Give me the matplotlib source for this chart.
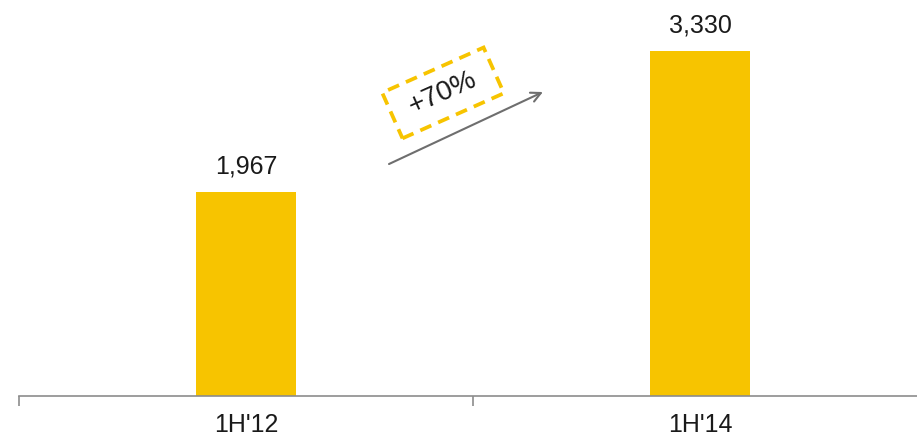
import matplotlib.pyplot as plt
import matplotlib.patches as mpatches
import matplotlib.transforms as mtransforms

periods = ["1H'12", "1H'14"]
values = [1967, 3330]
growth_label = "+70%"

BAR_COLOR = '#F7C400'
AXIS_COLOR = '#8c8c8c'
TEXT_COLOR = '#1a1a1a'

plt.rcParams['font.family'] = ['Liberation Sans', 'DejaVu Sans']

fig = plt.figure(figsize=(9.17, 4.36), dpi=100)
ax = fig.add_axes([19 / 917, 40 / 436, 908 / 917, 396 / 436])

x = list(range(len(periods)))
ax.bar(x, values, width=0.222, color=BAR_COLOR, zorder=2)

for xi, v in zip(x, values):
    ax.annotate(f"{v:,}", (xi, v), xytext=(0, 10), textcoords='offset points',
                ha='center', va='bottom', fontsize=18, color=TEXT_COLOR)

ax.set_xlim(-0.5, 1.5)
ax.set_ylim(0, 3822)

for side in ('top', 'right', 'left'):
    ax.spines[side].set_visible(False)
ax.spines['bottom'].set_color(AXIS_COLOR)
ax.spines['bottom'].set_linewidth(1.2)
ax.set_yticks([])

ax.set_xticks(x)
ax.set_xticklabels(periods, fontsize=18, color=TEXT_COLOR)
ax.tick_params(axis='x', which='major', length=0, pad=12)
ax.set_xticks([-0.5, 0.5, 1.5], minor=True)
ax.tick_params(axis='x', which='minor', length=7, width=1.2, color=AXIS_COLOR)

# growth arrow between the two bars
ax.annotate('', xy=(0.654, 2934), xytext=(0.315, 2239),
            arrowprops=dict(arrowstyle='->,head_length=0.7,head_width=0.35',
                            color='#6e6e6e', lw=1.5, shrinkA=0, shrinkB=0))

# dashed tilted box with the growth figure
angle = 24
box_center = (0.434, 2925)
box_w, box_h = 1.11, 0.50
place = (mtransforms.Affine2D().rotate_deg(angle) + fig.dpi_scale_trans
         + mtransforms.ScaledTranslation(box_center[0], box_center[1], ax.transData))
box = mpatches.Rectangle((-box_w / 2, -box_h / 2), box_w, box_h, transform=place,
                         fill=False, ec=BAR_COLOR, lw=2.7, ls=(0, (3.2, 2.0)))
ax.add_patch(box)
ax.text(box_center[0], box_center[1], growth_label, rotation=angle,
        rotation_mode='anchor', ha='center', va='center', fontsize=20, color=TEXT_COLOR)

fig.savefig('out.png', dpi=100)
